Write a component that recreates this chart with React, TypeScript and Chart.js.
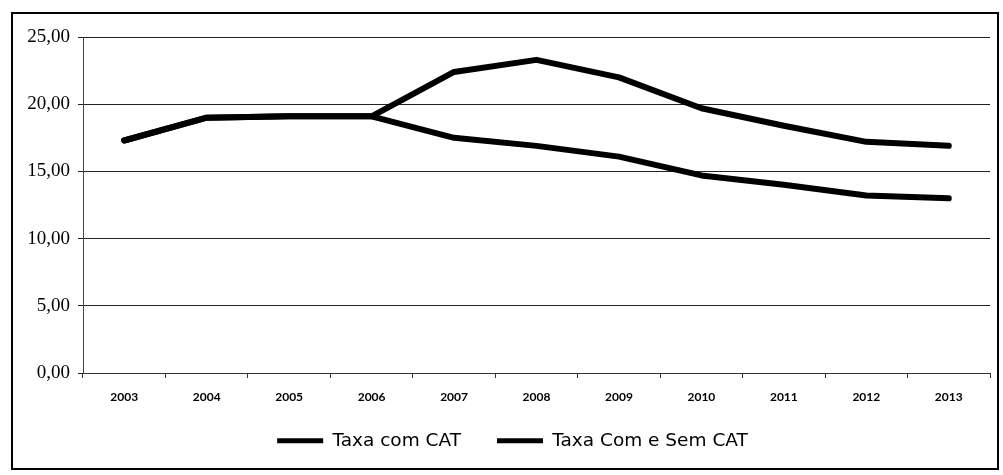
import { useEffect, useRef } from "react";
import { Chart, registerables } from "chart.js";

Chart.register(...registerables);

const years = ["2003", "2004", "2005", "2006", "2007", "2008", "2009", "2010", "2011", "2012", "2013"];
const taxaComCat = [17.3, 19.0, 19.1, 19.1, 17.5, 16.9, 16.1, 14.7, 14.0, 13.2, 13.0];
const taxaComESemCat = [17.3, 19.0, 19.1, 19.1, 22.4, 23.3, 22.0, 19.7, 18.4, 17.2, 16.9];
const seriesLabels = ["Taxa com CAT", "Taxa Com e Sem CAT"];
const yMin = 0;
const yMax = 25;
const yStep = 5;

const shiftLegend = {
  id: "shiftLegend",
  afterLayout(chart: any) {
    if (chart.legend) {
      chart.legend.left += 11;
      chart.legend.right += 11;
      chart.legend.top -= 9.5;
      chart.legend.bottom -= 9.5;
    }
  },
};

export default function App() {
  const ref = useRef<HTMLCanvasElement>(null);

  useEffect(() => {
    const chart = new Chart(ref.current as HTMLCanvasElement, {
      type: "line",
      data: {
        labels: years,
        datasets: [
          {
            label: seriesLabels[0],
            data: taxaComCat,
            borderColor: "#000",
            backgroundColor: "#000",
            borderWidth: 6,
            pointRadius: 0,
            tension: 0,
            borderJoinStyle: "round",
            borderCapStyle: "round",
          },
          {
            label: seriesLabels[1],
            data: taxaComESemCat,
            borderColor: "#000",
            backgroundColor: "#000",
            borderWidth: 6,
            pointRadius: 0,
            tension: 0,
            borderJoinStyle: "round",
            borderCapStyle: "round",
          },
        ],
      },
      options: {
        animation: false,
        responsive: false,
        maintainAspectRatio: false,
        layout: { padding: { left: 13, right: 13, top: 37, bottom: 5.5 } },
        plugins: {
          legend: {
            position: "bottom",
            labels: {
              boxWidth: 46,
              boxHeight: 5,
              padding: 36,
              color: "#000",
              font: { family: "DejaVu Sans", size: 18.5 },
              generateLabels: (c: any) =>
                (Chart.defaults.plugins.legend.labels.generateLabels as any)(c).map((l: any) => ({
                  ...l,
                  lineWidth: 0,
                  fillStyle: "#000",
                })),
            },
          },
          tooltip: { enabled: false },
        },
        scales: {
          x: {
            offset: true,
            grid: { offset: true, drawOnChartArea: false, drawTicks: true, tickLength: 5, color: "#333" },
            border: { color: "#333" },
            ticks: {
              color: "#000",
              padding: 12,
              maxRotation: 0,
              autoSkip: false,
              font: { family: "Lato", size: 12, weight: "bold" },
            },
            afterFit: (s: any) => {
              s.height = 32;
            },
          },
          y: {
            min: yMin,
            max: yMax,
            ticks: {
              stepSize: yStep,
              padding: 8,
              color: "#000",
              font: { family: "Liberation Serif", size: 19 },
              callback: (v: any) => Number(v).toFixed(2).replace(".", ","),
            },
            grid: { color: "#222", tickLength: 5 },
            border: { color: "#444" },
            afterFit: (s: any) => {
              s.width = 70;
            },
          },
        },
      },
      plugins: [shiftLegend],
    } as any);
    return () => chart.destroy();
  }, []);

  return (
    <div style={{ position: "fixed", left: 0, top: 0, width: 1003, height: 475, background: "#fff" }}>
      <canvas ref={ref} width={1003} height={475} style={{ display: "block" }} />
      <div
        style={{
          position: "absolute",
          left: 11,
          top: 12,
          width: 984,
          height: 454,
          border: "2px solid #000",
          pointerEvents: "none",
        }}
      />
    </div>
  );
}
